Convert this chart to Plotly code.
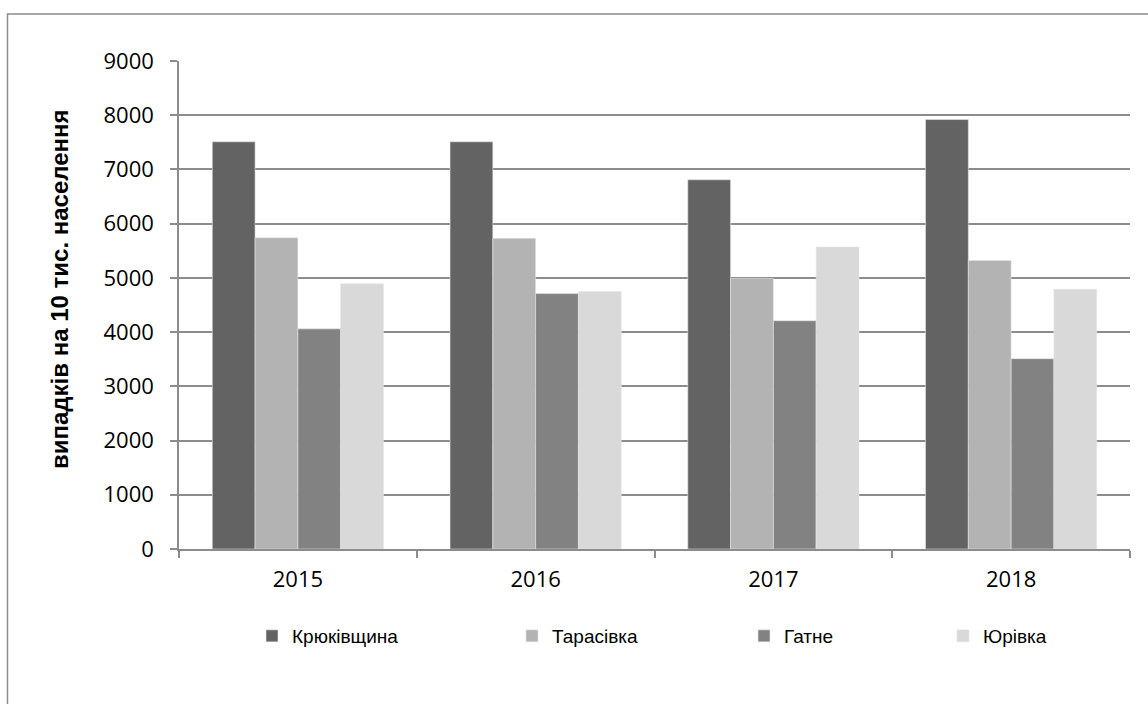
import plotly.graph_objects as go

years = ["2015", "2016", "2017", "2018"]
kryukivshchyna = [7510, 7510, 6810, 7920]
tarasivka = [5740, 5730, 4990, 5320]
hatne = [4060, 4710, 4210, 3510]
yurivka = [4890, 4750, 5570, 4790]

series = [
    ("Крюківщина", kryukivshchyna, "#636363", "legend"),
    ("Тарасівка", tarasivka, "#b3b3b3", "legend2"),
    ("Гатне", hatne, "#828282", "legend3"),
    ("Юрівка", yurivka, "#d9d9d9", "legend4"),
]

y_title = "випадків на 10 тис. населення"
y_ticks = [0, 1000, 2000, 3000, 4000, 5000, 6000, 7000, 8000, 9000]

fig = go.Figure()
for name, vals, color, lg in series:
    fig.add_trace(go.Bar(
        x=years, y=vals, name=name, legend=lg,
        marker=dict(color=color, line=dict(color="#e6e6e6", width=0.6)),
    ))

W, H = 1148, 704
L, R, T, B = 179, 18, 61, 155
pw, ph = W - L - R, H - T - B

def px(x):
    return (x - L) / pw

def py(y):
    return (H - B - y) / ph

grid = "#8c8c8c"
tickfont = dict(family="Open Sans, sans-serif", size=22, color="#000000")
legfont = dict(family="Liberation Sans, Arial, sans-serif", size=19, color="#000000")

leg_common = dict(orientation="h", yanchor="middle", xanchor="left",
                  font=legfont, bgcolor="rgba(0,0,0,0)", y=py(636))

fig.update_layout(
    width=W, height=H,
    margin=dict(l=L, r=R, t=T, b=B),
    paper_bgcolor="white", plot_bgcolor="white",
    barmode="group", bargap=0.28, bargroupgap=0,
    showlegend=True,
    legend=dict(x=px(252), **leg_common),
    legend2=dict(x=px(512), **leg_common),
    legend3=dict(x=px(744), **leg_common),
    legend4=dict(x=px(943), **leg_common),
    xaxis=dict(
        showline=True, linecolor=grid, linewidth=1.5,
        ticks="outside", tickson="boundaries", ticklen=7, tickcolor=grid, tickwidth=1.5,
        tickfont=tickfont, ticklabelstandoff=10, showgrid=False,
    ),
    yaxis=dict(
        range=[0, 9000], tickvals=y_ticks,
        showline=True, linecolor=grid, linewidth=1.5,
        showgrid=True, gridcolor=grid, gridwidth=1.5,
        ticks="outside", ticklen=7, tickcolor=grid, tickwidth=1.5,
        tickfont=tickfont, ticklabelstandoff=12, zeroline=False,
    ),
    annotations=[dict(
        text="<b>" + y_title + "</b>", textangle=-90, xref="paper", yref="paper",
        x=px(59), y=py(289), showarrow=False, xanchor="center", yanchor="middle",
        font=dict(family="Liberation Sans, Arial, sans-serif", size=24, color="#000000"),
    )],
    shapes=[dict(
        type="rect", xref="paper", yref="paper",
        x0=px(7.5), x1=px(1160), y0=py(720), y1=py(14),
        line=dict(color="#8c8c8c", width=1.5), fillcolor="rgba(0,0,0,0)", layer="below",
    )],
)

fig.write_html("out.html")
